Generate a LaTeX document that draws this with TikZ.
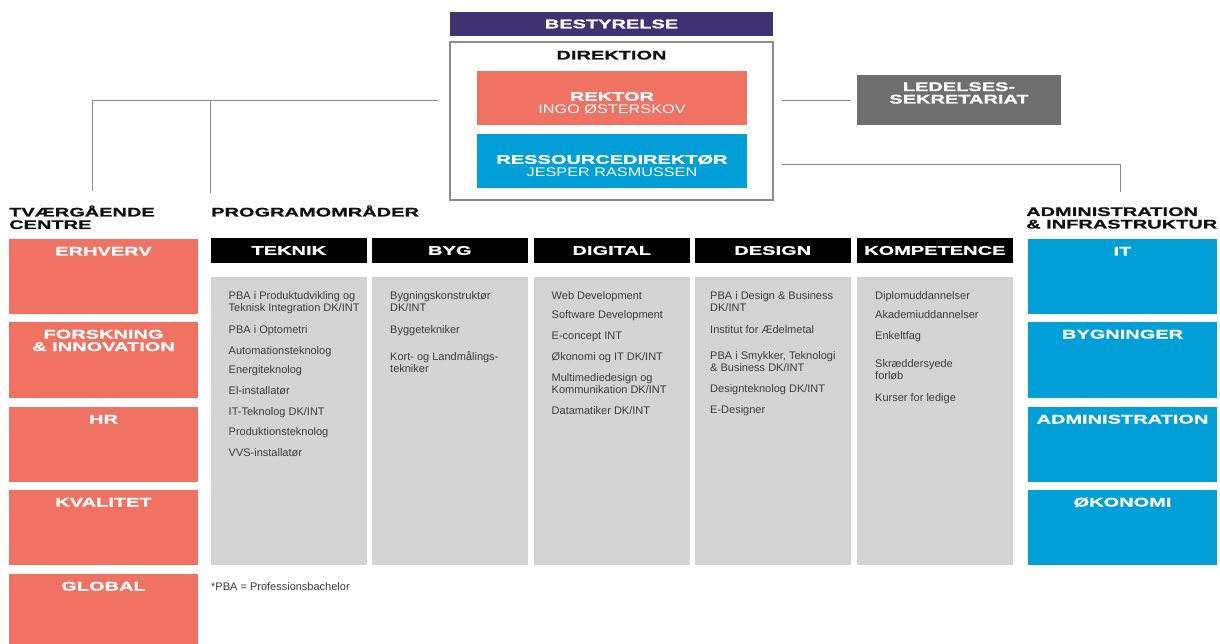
\documentclass[tikz,border=0pt]{standalone}
\usepackage{fontspec}
\setmainfont{Liberation Sans}
\newfontfamily\hdfont[FakeStretch=1.6,FakeBold=1]{Liberation Sans Bold}
\newfontfamily\nmfont[FakeStretch=1.3]{Liberation Sans}
\usetikzlibrary{positioning}

\definecolor{laks}{HTML}{EF7263}
\definecolor{blaa}{HTML}{009FD7}
\definecolor{lilla}{HTML}{3F3272}
\definecolor{moerk}{HTML}{6F6F6F}
\definecolor{lys}{HTML}{D4D4D4}
\definecolor{streg}{HTML}{8C8C8C}
\definecolor{tekst}{HTML}{3C3C3C}
\definecolor{sort}{HTML}{111111}

\tikzset{
  boks/.style 2 args={anchor=north west, inner sep=0pt, outer sep=0pt,
    minimum width=#1, minimum height=#2},
  hd/.style={font=\hdfont\fontsize{12.5}{12.5}\selectfont, inner sep=0pt, align=center},
  chef/.style={font=\fontsize{12.5}{13}\selectfont, text=white, inner sep=0pt,
    align=center, anchor=base},
  punkt/.style={font=\fontsize{11}{12.5}\selectfont, text=tekst, inner sep=0pt,
    anchor=base west, align=left},
  link/.style={draw=streg, line width=1pt},
}

\begin{document}
\begin{tikzpicture}[x=1pt, y=-1pt]
  \useasboundingbox (0,0) rectangle (1220,644);

  % ledelse
  \node[boks={323}{24}, fill=lilla, hd, text=white] (bestyrelse) at (450,12) {BESTYRELSE};
  \node[boks={323}{158}, draw=streg, line width=2pt] (direktion) at (450,42) {};
  \node[hd, text=sort, anchor=base] (direktion-t) at ([yshift=-17.5pt]direktion.north) {DIREKTION};
  \node[boks={270}{54}, fill=laks] (rektor) at (477,71) {};
  \node[chef] (rektor-t) at ([yshift=-42.8pt]rektor.north) {{\hdfont REKTOR}\\{\nmfont INGO ØSTERSKOV}};
  \node[boks={270}{54}, fill=blaa] (ressource) at (477,134) {};
  \node[chef] (ressource-t) at ([yshift=-42.8pt]ressource.north) {{\hdfont RESSOURCEDIREKTØR}\\{\nmfont JESPER RASMUSSEN}};
  \node[boks={204}{50}, fill=moerk] (sekretariat) at (857,75) {};
  \node[hd, text=white, anchor=base] (sekretariat-t) at ([yshift=-28.5pt]sekretariat.north) {LEDELSES-\\SEKRETARIAT};

  % streger
  \coordinate (vj) at (438,101);
  \coordinate (tv) at (92,191);
  \coordinate (pg) at (210,193);
  \coordinate (hj) at (782,101);
  \coordinate (hj2) at (782,165);
  \coordinate (ai) at (1120,192);
  \draw[link] (vj) -| (tv);
  \draw[link] (pg) -- (pg |- vj);
  \draw[link, shorten >=6pt] (hj) -- (hj -| sekretariat.west);
  \draw[link] (hj2) -| (ai);

  % overskrifter
  \node[hd, text=sort, align=left, anchor=base west] (centre-t) at (9,229) {TVÆRGÅENDE\\CENTRE};
  \node[hd, text=sort, align=left, anchor=base west] (program-t) at (211,216.5) {PROGRAMOMRÅDER};
  \node[hd, text=sort, align=left, anchor=base west] (admin-t) at (1026,228.5) {ADMINISTRATION\\\& INFRASTRUKTUR};

  % tvaergaaende centre
  \node[boks={189}{75}, fill=laks] (erhverv) at (9,239) {};
  \node[hd, text=white, anchor=base] (erhverv-t) at ([yshift=-16.5pt]erhverv.north) {ERHVERV};
  \node[boks={189}{76}, fill=laks] (forskning) at (9,322) {};
  \node[hd, text=white, anchor=base] (forskning-t) at ([yshift=-29pt]forskning.north) {FORSKNING\\\& INNOVATION};
  \node[boks={189}{75}, fill=laks] (hr) at (9,407) {};
  \node[hd, text=white, anchor=base] (hr-t) at ([yshift=-16.5pt]hr.north) {HR};
  \node[boks={189}{75}, fill=laks] (kvalitet) at (9,490) {};
  \node[hd, text=white, anchor=base] (kvalitet-t) at ([yshift=-16.5pt]kvalitet.north) {KVALITET};
  \node[boks={189}{70}, fill=laks] (global) at (9,574) {};
  \node[hd, text=white, anchor=base] (global-t) at ([yshift=-16.5pt]global.north) {GLOBAL};

  % administration og infrastruktur
  \node[boks={189}{75}, fill=blaa] (it) at (1028,239) {};
  \node[hd, text=white, anchor=base] (it-t) at ([yshift=-16.5pt]it.north) {IT};
  \node[boks={189}{76}, fill=blaa] (bygninger) at (1028,322) {};
  \node[hd, text=white, anchor=base] (bygninger-t) at ([yshift=-16.5pt]bygninger.north) {BYGNINGER};
  \node[boks={189}{75}, fill=blaa] (administration) at (1028,407) {};
  \node[hd, text=white, anchor=base] (administration-t) at ([yshift=-16.5pt]administration.north) {ADMINISTRATION};
  \node[boks={189}{75}, fill=blaa] (oekonomi) at (1028,490) {};
  \node[hd, text=white, anchor=base] (oekonomi-t) at ([yshift=-16.5pt]oekonomi.north) {ØKONOMI};

  % programomraader
  \node[boks={155.5}{25}, fill=black, hd, text=white] (teknik) at (211,238) {TEKNIK};
  \node[boks={155.5}{288}, fill=lys] (teknik-felt) at (211,277) {};
  \node[boks={155.5}{25}, fill=black, hd, text=white] (byg) at (372,238) {BYG};
  \node[boks={155.5}{288}, fill=lys] (byg-felt) at (372,277) {};
  \node[boks={155.5}{25}, fill=black, hd, text=white] (digital) at (534,238) {DIGITAL};
  \node[boks={155.5}{288}, fill=lys] (digital-felt) at (534,277) {};
  \node[boks={155.5}{25}, fill=black, hd, text=white] (design) at (695,238) {DESIGN};
  \node[boks={155.5}{288}, fill=lys] (design-felt) at (695,277) {};
  \node[boks={155.5}{25}, fill=black, hd, text=white] (kompetence) at (857,238) {KOMPETENCE};
  \node[boks={155.5}{288}, fill=lys] (kompetence-felt) at (857,277) {};

  % teknik
  \node[punkt] (t1) at (228.5,311.5) {PBA i Produktudvikling og\\Teknisk Integration DK/INT};
  \node[punkt] (t2) at (228.5,333) {PBA i Optometri};
  \node[punkt] (t3) at (228.5,354) {Automationsteknolog};
  \node[punkt] (t4) at (228.5,373) {Energiteknolog};
  \node[punkt] (t5) at (228.5,394) {El-installatør};
  \node[punkt] (t6) at (228.5,415) {IT-Teknolog DK/INT};
  \node[punkt] (t7) at (228.5,435) {Produktionsteknolog};
  \node[punkt] (t8) at (228.5,456) {VVS-installatør};

  % byg
  \node[punkt] (b1) at (390,311.5) {Bygningskonstruktør\\DK/INT};
  \node[punkt] (b2) at (390,333) {Byggetekniker};
  \node[punkt] (b3) at (390,372.5) {Kort- og Landmålings-\\tekniker};

  % digital
  \node[punkt] (d1) at (551.5,299) {Web Development};
  \node[punkt] (d2) at (551.5,318) {Software Development};
  \node[punkt] (d3) at (551.5,339) {E-concept INT};
  \node[punkt] (d4) at (551.5,360) {Økonomi og IT DK/INT};
  \node[punkt] (d5) at (551.5,393.5) {Multimediedesign og\\Kommunikation DK/INT};
  \node[punkt] (d6) at (551.5,414) {Datamatiker DK/INT};

  % design
  \node[punkt] (s1) at (710,311.5) {PBA i Design \& Business\\DK/INT};
  \node[punkt] (s2) at (710,333) {Institut for Ædelmetal};
  \node[punkt] (s3) at (710,371.5) {PBA i Smykker, Teknologi\\\& Business DK/INT};
  \node[punkt] (s4) at (710,392) {Designteknolog DK/INT};
  \node[punkt] (s5) at (710,413) {E-Designer};

  % kompetence
  \node[punkt] (k1) at (875,299) {Diplomuddannelser};
  \node[punkt] (k2) at (875,318) {Akademiuddannelser};
  \node[punkt] (k3) at (875,339) {Enkeltfag};
  \node[punkt] (k4) at (875,379.5) {Skræddersyede\\forløb};
  \node[punkt] (k5) at (875,401) {Kurser for ledige};

  \node[punkt] (note) at (211,590) {*PBA = Professionsbachelor};
\end{tikzpicture}
\end{document}
